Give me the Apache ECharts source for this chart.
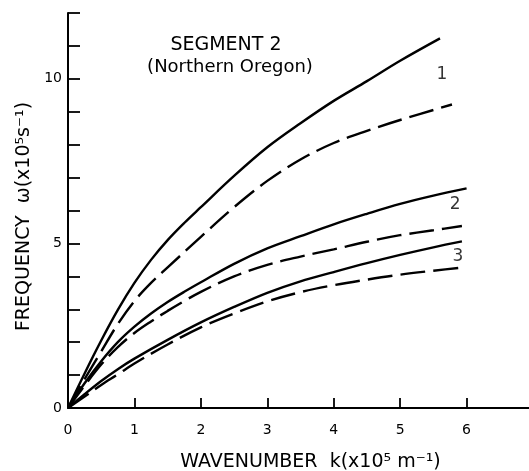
<!DOCTYPE html>
<html>
<head>
<meta charset="utf-8">
<script src="https://cdn.jsdelivr.net/npm/echarts@6/dist/echarts.min.js"></script>
<style>
html,body{margin:0;padding:0;background:#fff;}
#chart{width:529px;height:471px;}
</style>
</head>
<body>
<div id="chart"></div>
<script>
// Wavenumber k (x10^5 m^-1) and frequency ω (x10^5 s^-1)
const solid1X = [0, 0.25, 0.5, 0.75, 1, 1.25, 1.5, 1.75, 2, 2.5, 3, 3.5, 4, 4.5, 5, 5.6];
const solid1Y = [0, 1.05, 2.05, 2.98, 3.8, 4.5, 5.1, 5.62, 6.1, 7.05, 7.92, 8.65, 9.33, 9.93, 10.55, 11.23];

const dash1X = [0, 0.25, 0.5, 0.75, 1, 1.25, 1.5, 2, 2.5, 3, 3.5, 4, 4.5, 5, 5.78];
const dash1Y = [0, 0.88, 1.72, 2.55, 3.25, 3.8, 4.27, 5.2, 6.1, 6.9, 7.55, 8.05, 8.42, 8.75, 9.22];

const solid2X = [0, 0.25, 0.5, 0.75, 1, 1.25, 1.5, 1.75, 2, 2.5, 3, 3.5, 4, 4.5, 5, 5.5, 6.0];
const solid2Y = [0, 0.75, 1.42, 2.0, 2.47, 2.87, 3.22, 3.53, 3.82, 4.38, 4.85, 5.22, 5.58, 5.9, 6.2, 6.45, 6.67];

const dash2X = [0, 0.25, 0.5, 0.75, 1, 1.25, 1.5, 1.75, 2, 2.5, 3, 3.5, 4, 4.5, 5, 5.5, 5.93];
const dash2Y = [0, 0.68, 1.32, 1.85, 2.28, 2.63, 2.95, 3.25, 3.53, 4.0, 4.35, 4.6, 4.82, 5.05, 5.25, 5.4, 5.53];

const solid3X = [0, 0.25, 0.5, 0.75, 1, 1.5, 2, 2.5, 3, 3.5, 4, 4.5, 5, 5.5, 5.93];
const solid3Y = [0, 0.42, 0.82, 1.18, 1.5, 2.07, 2.6, 3.07, 3.5, 3.85, 4.13, 4.4, 4.65, 4.88, 5.06];

const dash3X = [0, 0.25, 0.5, 0.75, 1, 1.5, 2, 2.5, 3, 3.5, 4, 4.5, 5, 5.5, 5.96];
const dash3Y = [0, 0.35, 0.7, 1.02, 1.35, 1.93, 2.45, 2.87, 3.24, 3.52, 3.73, 3.9, 4.05, 4.17, 4.27];

// Curve number labels
const curveLabels = ['1', '2', '3'];
const curveLabelX = [5.63, 5.83, 5.87];
const curveLabelY = [10.13, 6.19, 4.59];

const titleLine1 = 'SEGMENT 2';
const titleLine2 = '(Northern Oregon)';
const xName = 'WAVENUMBER  k(x10⁵ m⁻¹)';
const yName = 'FREQUENCY  ω(x10⁵s⁻¹)';

const FONT = 'DejaVu Sans';
const zip = (xs, ys) => xs.map((x, i) => [x, ys[i]]);

function lineSeries(xs, ys, dashed) {
  return {
    type: 'line',
    data: zip(xs, ys),
    smooth: 0.35,
    symbol: 'none',
    silent: true,
    clip: false,
    lineStyle: {
      color: '#000',
      width: 2.4,
      type: dashed ? [25, 8] : 'solid'
    },
    z: 3
  };
}

const chart = echarts.init(document.getElementById('chart'), null, {renderer: 'canvas'});
chart.setOption({
  animation: false,
  backgroundColor: '#fff',
  grid: {left: 68, width: 465, top: 13, height: 395, containLabel: false, outerBoundsMode: 'none'},
  title: [
    {text: titleLine1, left: 221, top: 31, textAlign: 'center',
     textStyle: {fontFamily: FONT, fontSize: 19, fontWeight: 'normal', color: '#000'}},
    {text: titleLine2, left: 225, top: 53, textAlign: 'center',
     textStyle: {fontFamily: FONT, fontSize: 18, fontWeight: 'normal', color: '#000'}}
  ],
  xAxis: {
    type: 'value', min: 0, max: 7, interval: 1,
    name: xName, nameLocation: 'middle', nameGap: 45,
    nameTextStyle: {fontFamily: FONT, fontSize: 19, color: '#000', padding: [0, 0, 0, 20]},
    axisLine: {show: true, onZero: false, lineStyle: {color: '#000', width: 2}},
    axisTick: {show: true, inside: true, length: 10, lineStyle: {color: '#000', width: 1.8}},
    axisLabel: {fontFamily: FONT, fontSize: 14, color: '#000', margin: 15},
    splitLine: {show: false}
  },
  yAxis: {
    type: 'value', min: 0, max: 12, interval: 1,
    name: yName, nameLocation: 'middle', nameGap: 32, nameRotate: 90,
    nameTextStyle: {fontFamily: FONT, fontSize: 19, color: '#000', padding: [0, 12, 0, 0]},
    axisLine: {show: true, onZero: false, lineStyle: {color: '#000', width: 2}},
    axisTick: {show: true, inside: true, length: 12, lineStyle: {color: '#000', width: 1.8}},
    axisLabel: {
      fontFamily: FONT, fontSize: 14, color: '#000', margin: 6,
      formatter: v => (v % 5 === 0 ? String(v) : '')
    },
    splitLine: {show: false}
  },
  series: [
    lineSeries(solid1X, solid1Y, false),
    lineSeries(dash1X, dash1Y, true),
    lineSeries(solid2X, solid2Y, false),
    lineSeries(dash2X, dash2Y, true),
    lineSeries(solid3X, solid3Y, false),
    lineSeries(dash3X, dash3Y, true),
    {
      type: 'scatter',
      data: curveLabels.map((t, i) => ({value: [curveLabelX[i], curveLabelY[i]], name: t})),
      symbolSize: 0,
      silent: true,
      label: {
        show: true, position: 'inside', formatter: p => p.name,
        fontFamily: FONT, fontSize: 17, color: '#000'
      },
      z: 4
    }
  ]
});
</script>
</body>
</html>
